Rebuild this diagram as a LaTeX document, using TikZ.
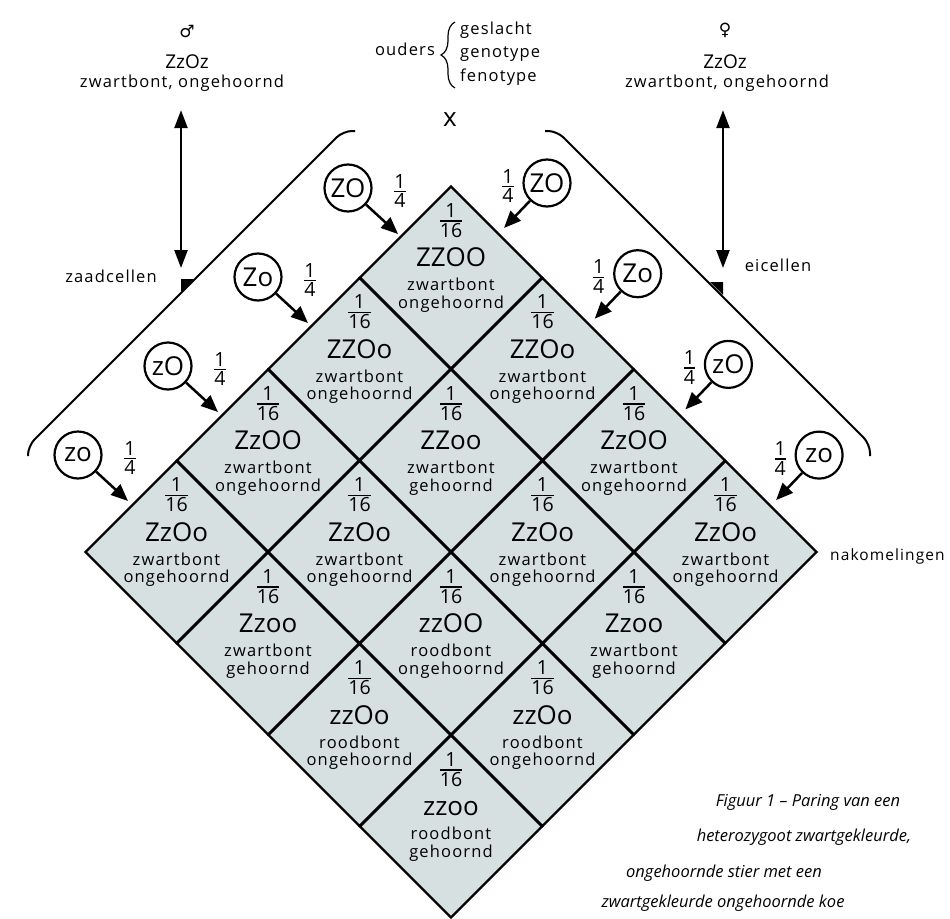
\documentclass[tikz,border=0pt]{standalone}
\usepackage{amsmath}
\usepackage{fontspec}
\setmainfont{Open Sans}
\newfontfamily\spatiefont[LetterSpace=7]{Open Sans}
\newfontfamily\symboolfont{DejaVu Sans}
\usetikzlibrary{arrows.meta,shapes.geometric,decorations.pathreplacing}
\definecolor{celgrijs}{RGB}{214,224,225}
% gestapelde breuk zoals 1/16
\newcommand{\frc}[2]{{\fontsize{19.5}{21}\selectfont\renewcommand{\arraystretch}{0}\setlength{\arrayrulewidth}{1.4pt}%
  \begin{tabular}{@{}c@{}}#1\\[3pt]\hline\rule{0pt}{15.5pt}#2\end{tabular}}}

\begin{document}
\begin{tikzpicture}[x=1pt, y=-1pt, every node/.style={inner sep=0pt},
    cel/.style={diamond, draw, line width=2.3pt, fill=celgrijs, minimum width=183pt, minimum height=183pt, inner sep=0pt},
    breuk/.style={},
    gentxt/.style={font=\fontsize{26}{30}\selectfont},
    tekst/.style={font=\spatiefont\fontsize{16.5}{17.5}\selectfont},
    gameet/.style={circle, draw, line width=2.2pt, minimum size=47pt, font=\fontsize{26}{28}\selectfont},
    pijl/.style={line width=2.5pt, -{Triangle[length=17pt,width=14pt]}},
    dpijl/.style={line width=2.5pt, {Triangle[length=18pt,width=13pt]}-{Triangle[length=18pt,width=13pt]}},
    haak/.style={line width=2pt, rounded corners=9pt},
    onderschrift/.style={font=\itshape\fontsize{16.5}{18}\selectfont}]
  \useasboundingbox (0,0) rectangle (950,918);

  % ouders
  \node[font=\symboolfont\fontsize{17}{20}\selectfont, anchor=base] (vader) at (187,37) {♂};
  \node[font=\fontsize{19}{22}\selectfont, anchor=base] (vgen) at (187,68) {ZzOz};
  \node[tekst, anchor=base] (vfen) at (182,87) {zwartbont, ongehoornd};
  \node[font=\symboolfont\fontsize{17}{20}\selectfont, anchor=base] (moeder) at (725,35) {♀};
  \node[font=\fontsize{19}{22}\selectfont, anchor=base] (mgen) at (725,68) {ZzOz};
  \node[tekst, anchor=base] (mfen) at (727,87) {zwartbont, ongehoornd};

  \node[tekst, anchor=base] (ouders) at (405,55) {ouders};
  \draw[line width=1.2pt, decorate, decoration={brace, amplitude=14pt}] (455,88) -- (455,22);
  \node[tekst, anchor=base west, align=left, font=\spatiefont\fontsize{16.5}{23.3}\selectfont] (legenda) at (460,81)
    {geslacht\\genotype\\fenotype};
  \node[gentxt] (kruis) at (450,120) {x};

  % haken van de gameten
  \draw[haak] (355,131) -- (343,131) -- (28,446) -- (28,456);
  \draw[haak] (545,131) -- (557,131) -- (870,444) -- (870,456);
  \coordinate (zt) at (181,279);
  \coordinate (et) at (723,282);
  \fill (zt) -- ++(0,13) -- ++(13,-13) -- cycle;
  \fill (et) -- ++(0,13) -- ++(-13,-13) -- cycle;
  \draw[dpijl, shorten <=19pt, shorten >=11pt] (vfen.south -| zt) -- (zt);
  \draw[dpijl, shorten <=19pt, shorten >=14pt] (mfen.south -| et) -- (et);
  \node[tekst, anchor=base] (zaad) at (111,282) {zaadcellen};
  \node[tekst, anchor=base] (ei) at (778,271) {eicellen};

  % gameten
  \foreach \g [count=\k from 0] in {ZO,Zo,zO,zo}{
    \pgfmathsetmacro\gx{348-90*\k}
    \pgfmathsetmacro\gy{188+89*\k}
    \node[gameet] (z\k) at (\gx,\gy) {\g};
    \node[breuk] (zf\k) at (\gx+52,\gy+3) {\frc{1}{4}};
    \coordinate (zp\k) at (\gx+50,\gy+46);
    \draw[pijl] (z\k) -- (zp\k);
  }
  \foreach \g [count=\k from 0] in {ZO,Zo,zO,zo}{
    \pgfmathsetmacro\gx{547+90.7*\k}
    \pgfmathsetmacro\gy{183+90.7*\k}
    \node[gameet] (e\k) at (\gx,\gy) {\g};
    \node[breuk] (ef\k) at (\gx-39,\gy+3) {\frc{1}{4}};
    \coordinate (ep\k) at (\gx-43,\gy+45);
    \draw[pijl] (e\k) -- (ep\k);
  }

  % nakomelingen
  \foreach \i/\j/\gen/\kleur/\hoorn in {
      0/0/ZZOO/zwartbont/ongehoornd, 1/0/ZZOo/zwartbont/ongehoornd, 0/1/ZZOo/zwartbont/ongehoornd,
      2/0/ZzOO/zwartbont/ongehoornd, 1/1/ZZoo/zwartbont/gehoornd, 0/2/ZzOO/zwartbont/ongehoornd,
      3/0/ZzOo/zwartbont/ongehoornd, 2/1/ZzOo/zwartbont/ongehoornd, 1/2/ZzOo/zwartbont/ongehoornd, 0/3/ZzOo/zwartbont/ongehoornd,
      3/1/Zzoo/zwartbont/gehoornd, 2/2/zzOO/roodbont/ongehoornd, 1/3/Zzoo/zwartbont/gehoornd,
      3/2/zzOo/roodbont/ongehoornd, 2/3/zzOo/roodbont/ongehoornd,
      3/3/zzoo/roodbont/gehoornd}{
    \pgfmathsetmacro\cx{451+91.5*(\j-\i)}
    \pgfmathsetmacro\cy{186+91.5*(\i+\j+1)}
    \node[cel] (c\i\j) at (\cx,\cy) {};
    \node[breuk] (f\i\j) at (\cx,\cy-57) {\frc{1}{16}};
    \node[gentxt, anchor=base] (g\i\j) at (\cx,\cy-11) {\gen};
    \node[tekst, anchor=base, align=center] (o\i\j) at (\cx,\cy+30.5) {\kleur\\\hoorn};
  }
  \node[tekst, anchor=base west, font=\spatiefont\fontsize{15.5}{17.5}\selectfont] (nakom) at (830,560) {nakomelingen};

  % onderschrift
  \node[onderschrift, anchor=base] (ond1) at (808,806) {Figuur 1 – Paring van een};
  \node[onderschrift, anchor=base] (ond2) at (804,841) {heterozygoot zwartgekleurde,};
  \node[onderschrift, anchor=base] (ond3) at (724,877) {ongehoornde stier met een};
  \node[onderschrift, anchor=base] (ond4) at (723,907) {zwartgekleurde ongehoornde koe};
\end{tikzpicture}
\end{document}
